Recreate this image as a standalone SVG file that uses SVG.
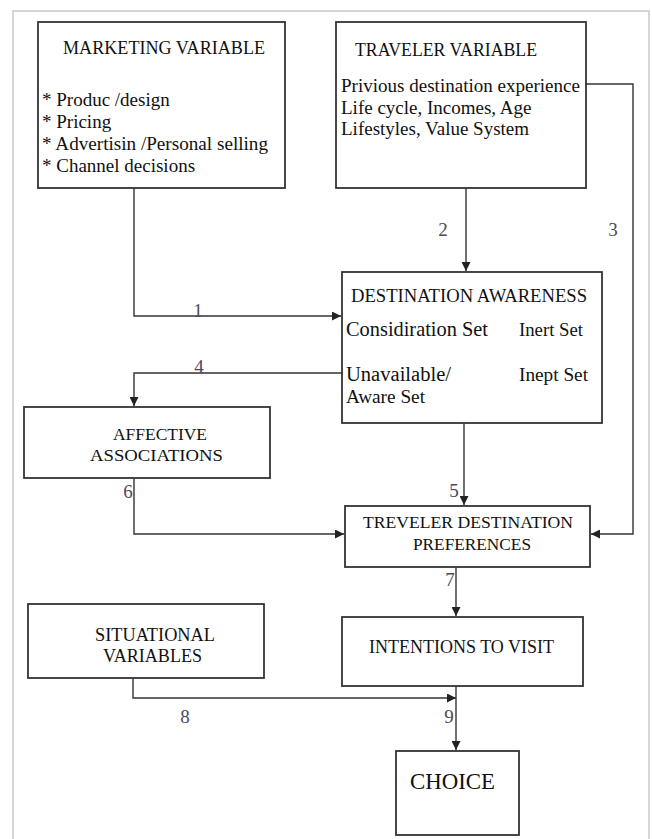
<svg xmlns="http://www.w3.org/2000/svg" width="652" height="839" viewBox="0 0 652 839">
<style>
.box{fill:#fff;stroke:#333;stroke-width:1.8}
.t{font-family:"Liberation Serif","Times New Roman",serif;fill:#111}
.n{font-family:"Liberation Serif","Times New Roman",serif;fill:#4a4a5a;font-size:19px;text-anchor:middle}
.c{fill:none;stroke:#333;stroke-width:1.4}
</style>
<defs>
<marker id="ah" markerUnits="userSpaceOnUse" markerWidth="10" markerHeight="9" viewBox="0 0 10 10" refX="10" refY="5" orient="auto">
<path d="M0,0 L10,5 L0,10 z" fill="#222"/>
</marker>
</defs>
<rect x="0" y="0" width="652" height="839" fill="#fff"/>
<rect x="13" y="11" width="636" height="845" fill="#fff" stroke="#c8c8c8" stroke-width="1.5"/>

<g id="marketing">
<rect class="box" x="38" y="22" width="247" height="166"/>
<text class="t" x="63" y="54" font-size="19" textLength="202" lengthAdjust="spacingAndGlyphs">MARKETING VARIABLE</text>
<text class="t" x="42" y="106" font-size="19">* Produc /design</text>
<text class="t" x="42" y="128" font-size="19">* Pricing</text>
<text class="t" x="42" y="150" font-size="19" textLength="226" lengthAdjust="spacingAndGlyphs">* Advertisin /Personal selling</text>
<text class="t" x="42" y="172" font-size="19">* Channel decisions</text>
</g>

<g id="traveler">
<rect class="box" x="336" y="22" width="250" height="166"/>
<text class="t" x="355" y="56" font-size="19" textLength="182" lengthAdjust="spacingAndGlyphs">TRAVELER VARIABLE</text>
<text class="t" x="341" y="92" font-size="19" textLength="239" lengthAdjust="spacingAndGlyphs">Privious destination experience</text>
<text class="t" x="341" y="114" font-size="19">Life cycle, Incomes, Age</text>
<text class="t" x="341" y="135" font-size="19">Lifestyles, Value System</text>
</g>

<g id="awareness">
<rect class="box" x="342" y="272" width="260" height="151"/>
<text class="t" x="351" y="302" font-size="18" textLength="236" lengthAdjust="spacingAndGlyphs">DESTINATION AWARENESS</text>
<text class="t" x="346" y="336" font-size="21" textLength="142" lengthAdjust="spacingAndGlyphs">Considiration Set</text>
<text class="t" x="519" y="336" font-size="18.7" textLength="64" lengthAdjust="spacingAndGlyphs">Inert Set</text>
<text class="t" x="346" y="381" font-size="20.5" textLength="105" lengthAdjust="spacingAndGlyphs">Unavailable/</text>
<text class="t" x="519" y="381" font-size="19" textLength="69" lengthAdjust="spacingAndGlyphs">Inept Set</text>
<text class="t" x="346" y="403" font-size="19" textLength="79" lengthAdjust="spacingAndGlyphs">Aware Set</text>
</g>

<g id="affective">
<rect class="box" x="24" y="407" width="246" height="71"/>
<text class="t" x="113" y="440" font-size="17.5" textLength="94" lengthAdjust="spacingAndGlyphs">AFFECTIVE</text>
<text class="t" x="90" y="461" font-size="17.5" textLength="133" lengthAdjust="spacingAndGlyphs">ASSOCIATIONS</text>
</g>

<g id="preferences">
<rect class="box" x="345" y="506" width="245" height="61"/>
<text class="t" x="363" y="528" font-size="17.5" textLength="210" lengthAdjust="spacingAndGlyphs">TREVELER DESTINATION</text>
<text class="t" x="413" y="550" font-size="17.5" textLength="118" lengthAdjust="spacingAndGlyphs">PREFERENCES</text>
</g>

<g id="situational">
<rect class="box" x="28" y="604" width="236" height="74"/>
<text class="t" x="95" y="641" font-size="18" textLength="120" lengthAdjust="spacingAndGlyphs">SITUATIONAL</text>
<text class="t" x="103" y="662" font-size="18" textLength="99" lengthAdjust="spacingAndGlyphs">VARIABLES</text>
</g>

<g id="intentions">
<rect class="box" x="342" y="617" width="241" height="69"/>
<text class="t" x="369" y="653" font-size="19" textLength="185" lengthAdjust="spacingAndGlyphs">INTENTIONS TO VISIT</text>
</g>

<g id="choice">
<rect class="box" x="396" y="751" width="123" height="84"/>
<text class="t" x="410" y="789" font-size="23" textLength="85" lengthAdjust="spacingAndGlyphs">CHOICE</text>
</g>

<g id="connectors">
<path class="c" d="M134,188 V316 H341" marker-end="url(#ah)"/>
<path class="c" d="M466,188 V271" marker-end="url(#ah)"/>
<path class="c" d="M586,84 H633 V534 H591" marker-end="url(#ah)"/>
<path class="c" d="M342,373 H134 V406" marker-end="url(#ah)" stroke="#555"/>
<path class="c" d="M464,423 V505" marker-end="url(#ah)"/>
<path class="c" d="M134,478 V534 H344" marker-end="url(#ah)"/>
<path class="c" d="M456,567 V616" marker-end="url(#ah)"/>
<path class="c" d="M133,678 V698 H456" marker-end="url(#ah)"/>
<path class="c" d="M456,686 V750" marker-end="url(#ah)"/>
<text class="n" x="198" y="317">1</text>
<text class="n" x="443" y="236">2</text>
<text class="n" x="613" y="236">3</text>
<text class="n" x="199" y="373">4</text>
<text class="n" x="454" y="497">5</text>
<text class="n" x="128" y="498">6</text>
<text class="n" x="450" y="586">7</text>
<text class="n" x="185" y="723">8</text>
<text class="n" x="449" y="723">9</text>
</g>
</svg>
